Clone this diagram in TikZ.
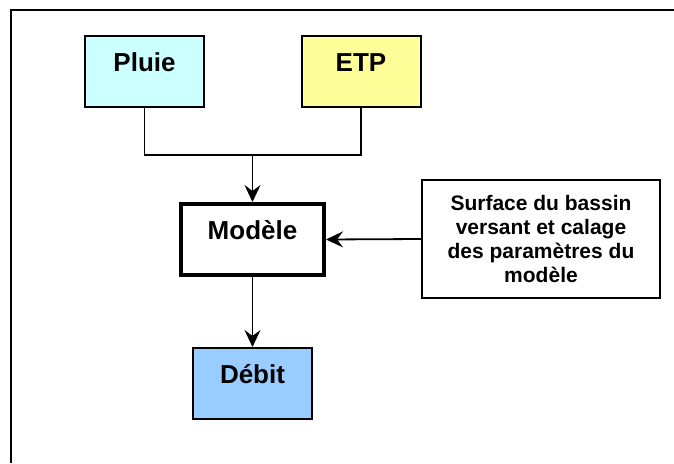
\documentclass[tikz,border=0pt]{standalone}
\usepackage{fontspec}
\setmainfont{Liberation Sans}
\usetikzlibrary{arrows.meta}
\begin{document}
\begin{tikzpicture}[x=1pt,y=-1pt,
  box/.style={draw=black, line width=2pt, inner sep=0pt,
    text height=35.5pt, text depth=35.5pt,
    font=\fontsize{26}{30}\selectfont\bfseries},
  notebox/.style={draw=black, line width=2pt, inner sep=0pt, align=center,
    minimum width=238pt, minimum height=118pt,
    font=\fontsize{21}{24.3}\selectfont\bfseries},
  link/.style={line width=1.8pt},
  flow/.style={line width=1.8pt, -{Stealth[length=17pt, width=16pt, inset=6pt]}}
]
\useasboundingbox (0,0) rectangle (674,463);
% outer frame (only the top and left edges fall inside the page)
\draw[line width=2pt] (11,463) -- (11,10) -- (674,10);

% inputs
\node[box, fill={rgb,255:red,204;green,255;blue,255}, minimum width=119pt] (pluie) at (144.5,71) {Pluie};
\node[box, fill={rgb,255:red,255;green,255;blue,153}, minimum width=119pt] (etp) at (361,71) {ETP};

% model
\node[box, line width=4pt, fill=white, minimum width=143pt] (modele) at (252.5,239.5) {Modèle};

% parameters
\node[notebox] (surf) at (541,239) {Surface du bassin\\versant et calage\\des paramètres du\\modèle};

% output
\node[box, fill={rgb,255:red,153;green,204;blue,255}, minimum width=119pt] (debit) at (252.5,383.5) {Débit};

% connectors
\coordinate (j) at (252.5,155);
\draw[link] (pluie.south) |- (j) -| (etp.south);
\draw[flow] (j) -- (modele.north);
\draw[flow] (surf.west) -- (modele.east);
\draw[flow] (modele.south) -- (debit.north);
\end{tikzpicture}
\end{document}
